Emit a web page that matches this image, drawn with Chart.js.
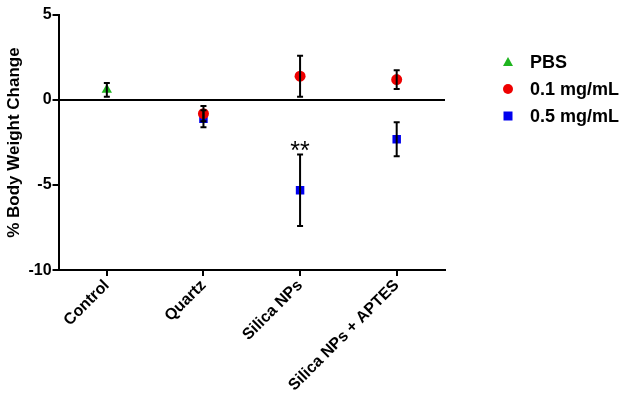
<!DOCTYPE html>
<html>
<head>
<meta charset="utf-8">
<script src="https://cdn.jsdelivr.net/npm/chart.js@4/dist/chart.umd.min.js"></script>
<style>
  html, body { margin: 0; padding: 0; background: #fff; }
  #wrap { width: 629px; height: 401px; }
</style>
</head>
<body>
<div id="wrap"><canvas id="c"></canvas></div>
<script>
const groups = ['Control', 'Quartz', 'Silica NPs', 'Silica NPs + APTES'];
const seriesNames = ['PBS', '0.1 mg/mL', '0.5 mg/mL'];

const pbsMean = [0.6, null, null, null];
const pbsErr = [0.4, null, null, null];
const lowMean = [null, -0.8, 1.4, 1.2];
const lowErr = [null, 0.45, 1.2, 0.55];
const highMean = [null, -1.1, -5.3, -2.3];
const highErr = [null, 0.5, 2.1, 1.0];

const yTicks = [-10, -5, 0, 5];
const stars = [null, null, '**', null];

const errs = [pbsErr, lowErr, highErr];
const fam = '"Liberation Sans", Arial, sans-serif';

const errorBars = {
  id: 'errorBars',
  afterDatasetsDraw(chart) {
    const ctx = chart.ctx;
    const y = chart.scales.y;
    ctx.save();
    ctx.strokeStyle = '#000';
    ctx.lineWidth = 2;
    chart.data.datasets.forEach((ds, i) => {
      chart.getDatasetMeta(i).data.forEach((pt, j) => {
        const m = ds.data[j], e = errs[i][j];
        if (m == null || e == null) return;
        const top = y.getPixelForValue(m + e), bot = y.getPixelForValue(m - e);
        ctx.beginPath();
        ctx.moveTo(pt.x, top); ctx.lineTo(pt.x, bot);
        ctx.moveTo(pt.x - 3, top); ctx.lineTo(pt.x + 3, top);
        ctx.moveTo(pt.x - 3, bot); ctx.lineTo(pt.x + 3, bot);
        ctx.stroke();
      });
    });
    // significance marks above the 0.5 mg/mL bars
    ctx.fillStyle = '#000';
    ctx.font = '25px ' + fam;
    ctx.textAlign = 'center';
    ctx.textBaseline = 'bottom';
    stars.forEach((s, j) => {
      if (!s) return;
      const x = chart.scales.x.getPixelForValue(j);
      ctx.fillText(s, x, y.getPixelForValue(highMean[j] + highErr[j]) + 10);
    });
    ctx.restore();
  }
};

const sideLegend = {
  id: 'sideLegend',
  afterDraw(chart) {
    const ctx = chart.ctx;
    ctx.save();
    ctx.font = 'bold 18px ' + fam;
    ctx.textBaseline = 'middle';
    chart.data.datasets.forEach((ds, i) => {
      const yy = 62 + i * 27;
      const xx = 508;
      ctx.fillStyle = ds.backgroundColor;
      ctx.beginPath();
      if (ds.pointStyle === 'triangle') {
        ctx.moveTo(xx, yy - 5); ctx.lineTo(xx + 5, yy + 4); ctx.lineTo(xx - 5, yy + 4);
      } else if (ds.pointStyle === 'circle') {
        ctx.arc(xx, yy, 5, 0, Math.PI * 2);
      } else {
        ctx.rect(xx - 4.5, yy - 4.5, 9, 9);
      }
      ctx.fill();
      ctx.fillStyle = '#000';
      ctx.fillText(ds.label, 530, yy + 1);
    });
    ctx.restore();
  }
};

new Chart(document.getElementById('c'), {
  type: 'line',
  data: {
    labels: groups,
    datasets: [
      { label: seriesNames[0], data: pbsMean, pointStyle: 'triangle', backgroundColor: '#1fb51f', borderColor: '#1fb51f', pointRadius: 6 },
      { label: seriesNames[1], data: lowMean, pointStyle: 'circle', backgroundColor: '#ee0000', borderColor: '#ee0000', pointRadius: 5.5 },
      { label: seriesNames[2], data: highMean, pointStyle: 'rect', backgroundColor: '#0000ee', borderColor: '#0000ee', pointRadius: 6 }
    ].map(d => Object.assign(d, { showLine: false, pointBorderWidth: 0 }))
  },
  options: {
    responsive: true,
    maintainAspectRatio: false,
    animation: false,
    layout: { padding: { top: 15, right: 184, left: 4, bottom: 6 } },
    plugins: {
      legend: { display: false },
      tooltip: { enabled: false }
    },
    scales: {
      x: {
        offset: true,
        grid: { drawOnChartArea: false, color: '#000', lineWidth: 2, tickLength: 6 },
        border: { color: '#000', width: 2 },
        ticks: {
          color: '#000', maxRotation: 45, minRotation: 45, padding: 0,
          font: { family: fam, size: 16, weight: 'bold' }
        }
      },
      y: {
        min: -10, max: 5,
        afterBuildTicks: axis => { axis.ticks = yTicks.map(v => ({ value: v })); },
        grid: {
          color: ctx => ctx.tick && ctx.tick.value === 0 ? '#000' : 'rgba(0,0,0,0)',
          lineWidth: 2, tickLength: 6, drawTicks: true,
          tickColor: '#000'
        },
        border: { color: '#000', width: 2 },
        ticks: {
          color: '#000', padding: 1,
          font: { family: fam, size: 16, weight: 'bold' }
        },
        title: {
          display: true, text: '% Body Weight Change', color: '#000',
          font: { family: fam, size: 17, weight: 'bold' },
          padding: { top: 0, bottom: 3 }
        }
      }
    }
  },
  plugins: [errorBars, sideLegend]
});
</script>
</body>
</html>
